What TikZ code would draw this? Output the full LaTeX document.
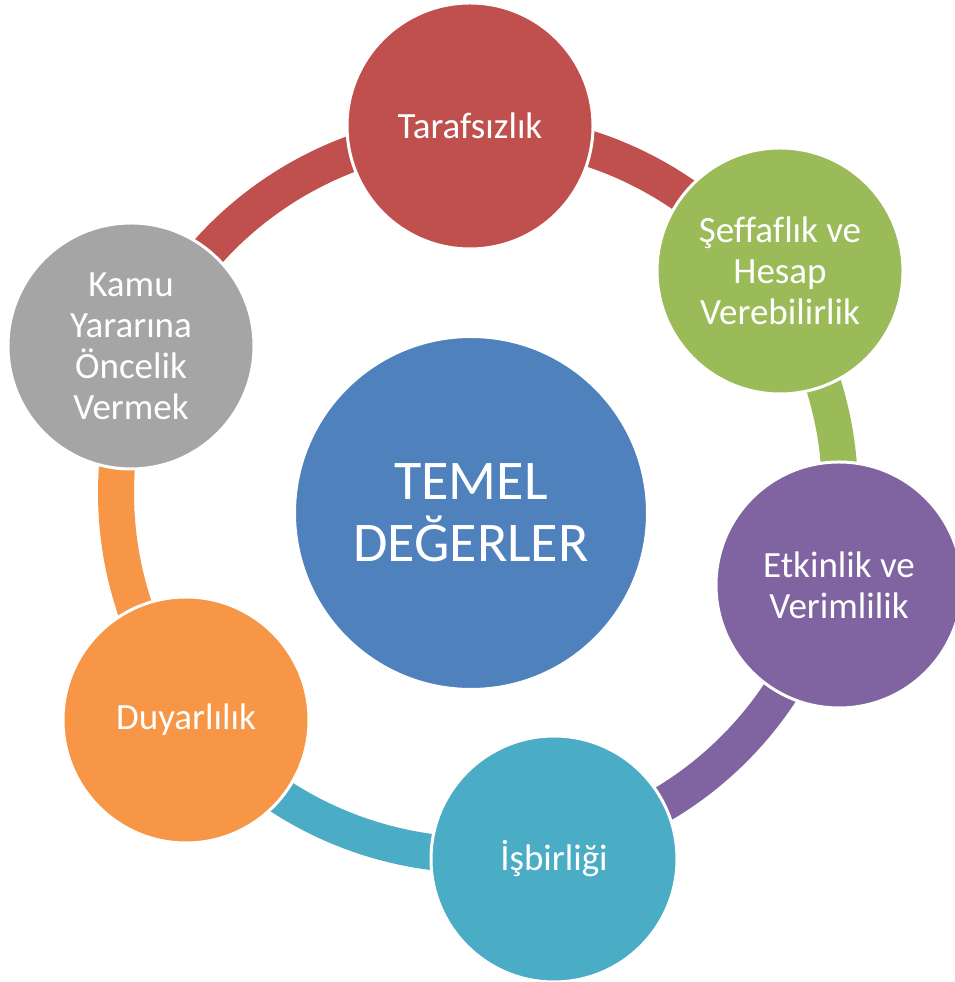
\documentclass[tikz,border=0pt]{standalone}
\usepackage{fontspec}
\setmainfont{Carlito}[Ligatures={NoCommon}]
\usetikzlibrary{calc}
\definecolor{cRed}{HTML}{C0504D}
\definecolor{cGreen}{HTML}{9BBB59}
\definecolor{cPurple}{HTML}{8064A2}
\definecolor{cTeal}{HTML}{4BACC6}
\definecolor{cOrange}{HTML}{F79646}
\definecolor{cGray}{HTML}{A5A5A5}
\definecolor{cBlue}{HTML}{4F81BD}
\begin{document}
\begin{tikzpicture}[x=1pt,y=1pt,
  bubble/.style={circle, minimum size=246pt, inner sep=0pt, draw=white, line width=3pt,
    text=white, align=center, font=\fontsize{37}{41}\selectfont},
  hub/.style={circle, minimum size=352pt, inner sep=0pt, draw=white, line width=2pt,
    fill=cBlue, text=white, align=center, font=\fontsize{56}{62}\selectfont},
  ring/.style={line width=36pt}]
\useasboundingbox (0,0) rectangle (955,982);
\coordinate (C) at (478,489);
% ring arcs
\draw[ring, cRed] ($(C)+(157:362)$) arc[start angle=157, end angle=36, radius=362];
\draw[ring, cGreen] ($(C)+(36.3:362)$) arc[start angle=36.3, end angle=-14.3, radius=362];
\draw[ring, cPurple] ($(C)+(-14.3:362)$) arc[start angle=-14.3, end angle=-78.3, radius=362];
\draw[ring, cTeal] ($(C)+(-78.3:362)$) arc[start angle=-78.3, end angle=-142.1, radius=362];
\draw[ring, cOrange] ($(C)+(217.9:362)$) arc[start angle=217.9, end angle=157, radius=362];
% circles
\node[hub] (main) at (471,469) {TEMEL\\DEĞERLER};
\node[bubble, fill=cRed] (taraf) at (470,856) {Tarafsızlık};
\node[bubble, fill=cGreen] (seff) at (780,711) {Şeffaflık ve\\Hesap\\Verebilirlik};
\node[bubble, fill=cPurple] (etk) at (839,397) {Etkinlik ve\\Verimlilik};
\node[bubble, fill=cTeal] (isb) at (554,123) {İşbirliği};
\node[bubble, fill=cOrange] (duy) at (186,262) {Duyarlılık};
\node[bubble, fill=cGray] (kamu) at (131,636) {Kamu\\Yararına\\Öncelik\\Vermek};
\end{tikzpicture}
\end{document}
